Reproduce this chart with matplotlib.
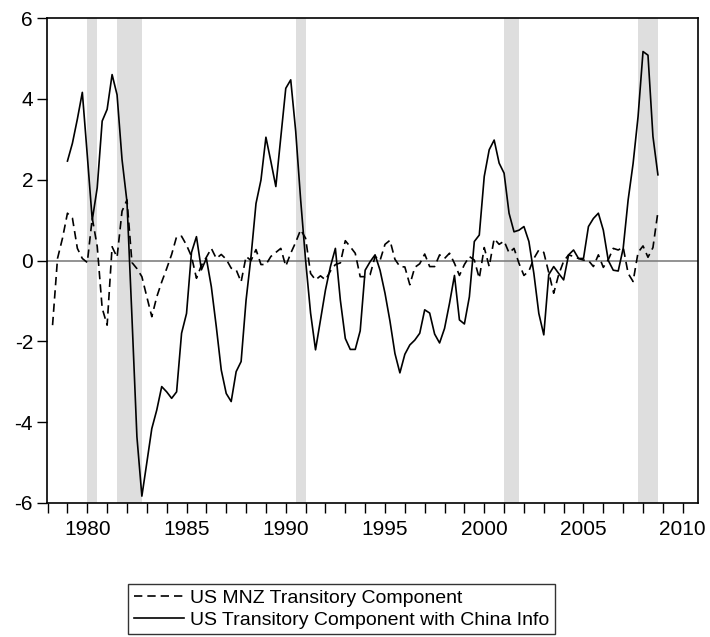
import matplotlib
matplotlib.use("Agg")
import matplotlib.pyplot as plt
import numpy as np

plt.rcParams['font.family'] = ['Liberation Sans', 'DejaVu Sans']

# ---- data (quarterly) ----
mnz_start = 1978.25   # 1978Q2
mnz = [
    -1.60, 0.05, 0.55,                 # 1978 Q2-Q4
    1.17, 1.05, 0.30, 0.05,            # 1979
    -0.05, 1.05, 0.35, -1.18,          # 1980
    -1.60, 0.34, 0.08, 1.22,           # 1981
    1.50, -0.05, -0.20, -0.40,         # 1982
    -0.90, -1.39, -0.90, -0.53,        # 1983
    -0.20, 0.15, 0.59, 0.60,           # 1984
    0.38, 0.10, -0.44, -0.12,          # 1985
    0.08, 0.30, 0.05, 0.15,            # 1986
    0.03, -0.19, -0.23, -0.53,         # 1987
    0.10, 0.00, 0.27, -0.10,           # 1988
    -0.10, 0.10, 0.20, 0.30,           # 1989
    -0.14, 0.18, 0.45, 0.76,           # 1990
    0.55, -0.32, -0.48, -0.38,         # 1991
    -0.48, -0.26, -0.10, -0.06,        # 1992
    0.49, 0.34, 0.18, -0.40,           # 1993
    -0.40, -0.35, 0.10, 0.00,          # 1994
    0.40, 0.50, 0.03, -0.15,           # 1995
    -0.16, -0.60, -0.17, -0.08,        # 1996
    0.16, -0.15, -0.15, 0.14,          # 1997
    0.05, 0.18, -0.07, -0.37,          # 1998
    -0.10, 0.10, 0.01, -0.44,          # 1999
    0.32, -0.15, 0.54, 0.40,           # 2000
    0.48, 0.19, 0.30, -0.07,           # 2001
    -0.37, -0.26, 0.05, 0.26,          # 2002
    0.20, -0.30, -0.81, -0.35,         # 2003
    -0.02, 0.14, 0.10, 0.05,           # 2004
    0.01, 0.00, -0.15, 0.14,           # 2005
    -0.17, 0.02, 0.30, 0.26,           # 2006
    0.33, -0.32, -0.52, 0.20,          # 2007
    0.36, 0.08, 0.32, 1.20,            # 2008
]

china_start = 1979.0  # 1979Q1
china = [
    2.46, 2.90, 3.50, 4.16,            # 1979
    2.60, 1.00, 1.80, 3.45,            # 1980
    3.74, 4.60, 4.10, 2.50,            # 1981
    1.45, -1.40, -4.36, -5.83,         # 1982
    -5.00, -4.16, -3.70, -3.12,        # 1983
    -3.25, -3.41, -3.25, -1.80,        # 1984
    -1.31, 0.20, 0.59, -0.23,          # 1985
    0.05, -0.65, -1.64, -2.71,         # 1986
    -3.29, -3.49, -2.75, -2.50,        # 1987
    -0.98, 0.10, 1.41, 1.99,           # 1988
    3.05, 2.45, 1.83, 3.05,            # 1989
    4.26, 4.47, 3.20, 1.50,            # 1990
    0.00, -1.30, -2.21, -1.47,         # 1991
    -0.73, -0.15, 0.30, -0.98,         # 1992
    -1.93, -2.20, -2.20, -1.74,        # 1993
    -0.24, -0.03, 0.14, -0.24,         # 1994
    -0.81, -1.50, -2.30, -2.78,        # 1995
    -2.32, -2.09, -1.97, -1.80,        # 1996
    -1.22, -1.30, -1.82, -2.04,        # 1997
    -1.68, -1.06, -0.37, -1.47,        # 1998
    -1.57, -0.90, 0.47, 0.63,          # 1999
    2.08, 2.74, 2.98, 2.41,            # 2000
    2.16, 1.17, 0.71, 0.75,            # 2001
    0.84, 0.47, -0.32, -1.31,          # 2002
    -1.84, -0.35, -0.15, -0.32,        # 2003
    -0.48, 0.14, 0.26, 0.05,           # 2004
    0.05, 0.84, 1.04, 1.17,            # 2005
    0.75, 0.00, -0.24, -0.26,          # 2006
    0.30, 1.50, 2.40, 3.56,            # 2007
    5.17, 5.08, 3.07, 2.12,            # 2008
]

# NBER recessions (start, end)
rec_start = [1980.0, 1981.5, 1990.5, 2001.0, 2007.75]
rec_end = [1980.5, 1982.75, 1991.0, 2001.75, 2008.75]

labels = ["US MNZ Transitory Component", "US Transitory Component with China Info"]

x_mnz = mnz_start + 0.25 * np.arange(len(mnz))
x_china = china_start + 0.25 * np.arange(len(china))

fig = plt.figure(figsize=(7.10, 6.37), dpi=100)
ax = fig.add_axes([47/710, 1-503/637, (698-47)/710, (503-18)/637])

for s, e in zip(rec_start, rec_end):
    ax.axvspan(s, e, color='#dedede', lw=0, zorder=0)

ax.axhline(0, color='#808080', lw=1.2, zorder=1)
l1, = ax.plot(x_mnz, mnz, color='black', lw=1.2, ls=(0, (5, 3)), zorder=3)
l2, = ax.plot(x_china, china, color='black', lw=1.2, zorder=3)

ax.set_xlim(1977.97, 2010.77)
ax.set_ylim(-6, 6)
ax.set_yticks(np.arange(-6, 7, 2))
ax.set_yticklabels([str(v) for v in range(-6, 7, 2)])
ax.set_xticks(np.arange(1980, 2011, 5))
ax.set_xticks(np.arange(1978, 2011, 1), minor=True)
ax.tick_params(axis='both', which='both', direction='out', length=7, width=1,
               labelsize=15, top=False, right=False, color='black')
ax.tick_params(axis='x', which='major', pad=5)
ax.tick_params(axis='y', which='major', pad=3)
for sp in ax.spines.values():
    sp.set_linewidth(1.2)
    sp.set_color('black')

leg = fig.legend([l1, l2], labels, loc='center', bbox_to_anchor=(341.5/710, 1-609/637),
                 frameon=True, fancybox=False, edgecolor='black', fontsize=14,
                 handlelength=2.6, handletextpad=0.3, borderpad=0.3, labelspacing=0.2,
                 borderaxespad=0)
leg.get_frame().set_linewidth(1.0)

fig.savefig("out.png", dpi=100)
